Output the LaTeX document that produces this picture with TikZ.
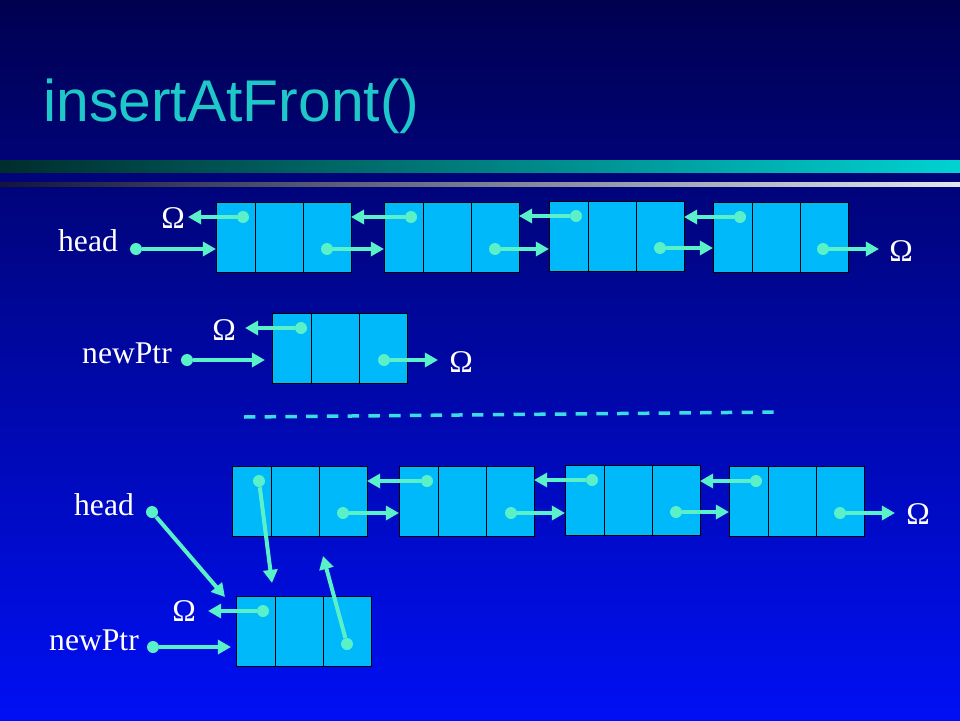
\documentclass[tikz,border=0pt]{standalone}
\usepackage{fontspec}
\setmainfont{Liberation Serif}
\newfontfamily\titlefont{Liberation Sans}
\usepackage{xcolor}
\usepackage{tikz}
\usetikzlibrary{arrows.meta, positioning}

\definecolor{bgtop}{RGB}{0,0,80}
\definecolor{bgbot}{RGB}{0,15,245}
\definecolor{titleteal}{RGB}{30,200,200}
\definecolor{barleft}{RGB}{0,45,45}
\definecolor{barright}{RGB}{0,210,210}
\definecolor{rulel}{RGB}{20,20,60}
\definecolor{ruler}{RGB}{225,230,240}
\definecolor{cellblue}{RGB}{0,185,250}
\definecolor{mint}{RGB}{90,240,200}
\definecolor{sepcyan}{RGB}{60,220,230}

\begin{document}
\begin{tikzpicture}[x=0.02cm, y=-0.02cm, >={Triangle[length=7.5pt, width=8pt]}]
		\tikzstyle{cella} = [draw=black, fill=cellblue, line width=0.5pt, minimum width=0.78cm, minimum height=1.41cm, inner sep=0pt, outer sep=0pt]
		\tikzstyle{cellb} = [cella, minimum width=0.96cm]
		\tikzstyle{dot}   = [circle, fill=mint, minimum size=0.24cm, inner sep=0pt]
		\tikzstyle{link}  = [->, color=mint, line width=0.08cm]
		\tikzstyle{lbl}   = [text=white, font=\fontsize{18}{20}\selectfont, inner sep=0pt]
		\tikzstyle{title} = [text=titleteal, font=\titlefont\fontsize{33.5}{40}\selectfont, inner sep=0pt]
		
		% slide background
		\shade[top color=bgtop, bottom color=bgbot] (0,0) rectangle (960,720);
		\useasboundingbox (0,0) rectangle (960,720);
		\shade[left color=barleft, right color=barright] (0,160) rectangle (960,172);
		\shade[left color=rulel, right color=ruler] (0,182) rectangle (960,186);
		\node[title, anchor=base west] (ttl) at (43,121) {insertAtFront()};
		
		% list nodes: three cells each
		\foreach \n/\x/\y in {ta/216/202, tb/384/202, tc/549/201, td/713/202, na/272/313,
				ba/232/466, bb/399/466, bc/565/465, bd/729/466, nb/236/596} {
			\node[cella, anchor=north west] at (\x,\y) (\n1) {};
			\node[cellb, right=0pt of \n1] (\n2) {};
			\node[cellb, right=0pt of \n2] (\n3) {};
		}
		
		% pointer dots
		\foreach \n/\x/\y in {tap/243/217, tan/327/249, tbp/411/217, tbn/495/249,
				tcp/576/216, tcn/660/248, tdp/740/217, tdn/823/249, nap/301/328, nan/384/360,
				bap/259/481, ban/343/513, bbp/427/481, bbn/511/513, bcp/592/480, bcn/676/512,
				bdp/756/481, bdn/840/513, nbp/263/611, nbn/347/644,
				hd1/136/249, hd2/152/512, nw1/187/360, nw2/153/647}
			\node[dot] (\n) at (\x,\y) {};
		
		\node[lbl] (head1) at (88,241) {head};
		\node[lbl] (ptr1)  at (127,353) {newPtr};
		\node[lbl] (head2) at (104,505) {head};
		\node[lbl] (ptr2)  at (94,640) {newPtr};
		
		\node[lbl] (om1) at (173,218) {Ω};
		\node[lbl] (om2) at (901,251) {Ω};
		\node[lbl] (om3) at (224,330) {Ω};
		\node[lbl] (om4) at (461,362) {Ω};
		\node[lbl] (om5) at (918,514) {Ω};
		\node[lbl] (om6) at (184,611) {Ω};
		
		\coordinate (e1) at (188,217);
		\coordinate (e2) at (879,249);
		\coordinate (e3) at (265,360);
		\coordinate (e4) at (245,328);
		\coordinate (e5) at (438,360);
		\coordinate (e6) at (225,597);
		\coordinate (e7) at (272,583);
		\coordinate (e8) at (895,513);
		\coordinate (e9) at (208,611);
		\coordinate (e10) at (231,647);
		\coordinate (e11) at (323,556);
		
		\draw[sepcyan, line width=0.07cm, dash pattern=on 6.5pt off 5.3pt] (244,417) -- (781,412);
		
		\path[link]
		(hd1)	edge	(hd1 -| ta1.west)
		(tap)	edge	(e1)
		(tan)	edge	(tan -| tb1.west)
		(tbp)	edge	(tbp -| ta3.east)
		(tbn)	edge	(tbn -| tc1.west)
		(tcp)	edge	(tcp -| tb3.east)
		(tcn)	edge	(tcn -| td1.west)
		(tdp)	edge	(tdp -| tc3.east)
		(tdn)	edge	(e2)
		(nw1)	edge	(e3)
		(nap)	edge	(e4)
		(nan)	edge	(e5)
		(hd2)	edge	(e6)
		(bap)	edge	(e7)
		(ban)	edge	(ban -| bb1.west)
		(bbp)	edge	(bbp -| ba3.east)
		(bbn)	edge	(bbn -| bc1.west)
		(bcp)	edge	(bcp -| bb3.east)
		(bcn)	edge	(bcn -| bd1.west)
		(bdp)	edge	(bdp -| bc3.east)
		(bdn)	edge	(e8)
		(nbp)	edge	(e9)
		(nw2)	edge	(e10)
		(nbn)	edge	(e11);
\end{tikzpicture}
\end{document}
